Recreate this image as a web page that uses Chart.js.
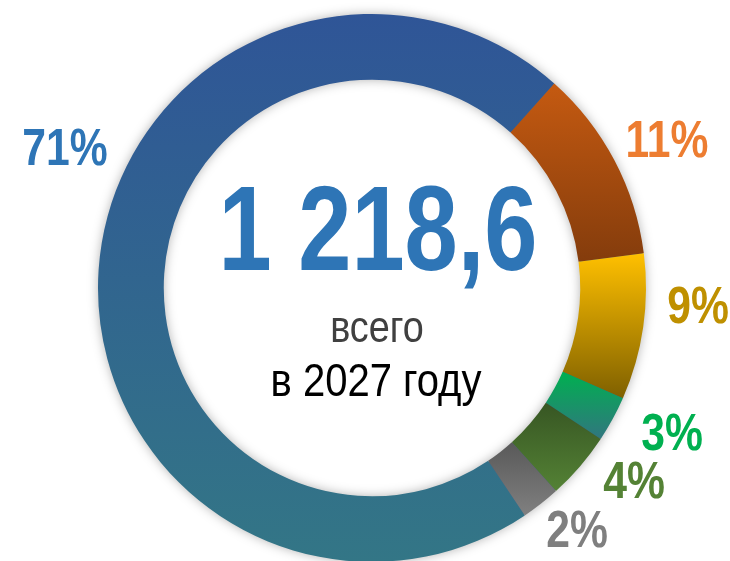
<!DOCTYPE html>
<html><head><meta charset="utf-8">
<script src="https://cdn.jsdelivr.net/npm/chart.js@4/dist/chart.umd.min.js"></script>
<style>
html,body{margin:0;padding:0;background:#fff;overflow:hidden;width:730px;height:561px;}
#wrap{position:absolute;left:0;top:0;width:730px;height:576px;}
.txt{position:absolute;white-space:nowrap;text-align:center;line-height:1;font-family:"Liberation Sans",Arial,sans-serif;transform-origin:50% 50%;}
</style></head><body>
<div id="wrap"><canvas id="c"></canvas></div>
<div id="center"></div>
<div id="labels"></div>
<script>
// ---- data ----
const categories = ['Категория 1', 'Категория 2', 'Категория 3', 'Категория 4', 'Категория 5', 'Категория 6'];
const shares = [71.0, 11.4, 8.6, 2.7, 4.0, 2.3];
const totalText = '1 218,6';
const subtitleLines = ['всего', 'в 2027 году'];

// ---- styles ----
const gradTop    = ['#2F5597', '#C55A11', '#FFC000', '#00B050', '#375623', '#595959'];
const gradBottom = ['#337686', '#843C0C', '#7F6000', '#31767F', '#548235', '#808080'];
const labelColors = ['#2E75B6', '#ED7D31', '#BF9000', '#00B050', '#548235', '#7F7F7F'];
const labelAngleDeg = [294.8, 63.1, 92.8, 115.6, 126.2, 139.5];
const labelDistFactor = [1.234, 1.209, 1.191, 1.215, 1.185, 1.152];
const startRotation = 146.1;
const cutoutPct = 76;

function segGradient(ctx) {
  const chart = ctx.chart, i = ctx.dataIndex, area = chart.chartArea;
  if (!area || i === undefined) return gradTop[i || 0];
  const cx = (area.left + area.right) / 2, cy = (area.top + area.bottom) / 2;
  const R = Math.min(area.width, area.height) / 2, r = R * cutoutPct / 100;
  const total = shares.reduce((a, b) => a + b, 0);
  let a0 = startRotation;
  for (let k = 0; k < i; k++) a0 += shares[k] / total * 360;
  const a1 = a0 + shares[i] / total * 360;
  let ymin = Infinity, ymax = -Infinity;
  for (let s = 0; s <= 60; s++) {
    const a = (a0 + (a1 - a0) * s / 60) * Math.PI / 180;
    for (const rad of [R, r]) {
      const y = cy - rad * Math.cos(a);
      ymin = Math.min(ymin, y); ymax = Math.max(ymax, y);
    }
  }
  const g = chart.ctx.createLinearGradient(0, ymin, 0, ymax);
  g.addColorStop(0, gradTop[i]);
  g.addColorStop(1, gradBottom[i]);
  return g;
}

const shadowRing = {
  id: 'shadowRing',
  beforeDatasetsDraw(chart) {
    const arc = chart.getDatasetMeta(0).data[0];
    if (!arc) return;
    const {x, y, outerRadius, innerRadius} = arc.getProps(['x', 'y', 'outerRadius', 'innerRadius'], true);
    const c = chart.ctx;
    c.save();
    c.beginPath();
    c.arc(x, y, outerRadius - 1, 0, Math.PI * 2);
    c.arc(x, y, innerRadius + 1, 0, Math.PI * 2, true);
    c.closePath();
    c.shadowColor = 'rgba(0,0,0,0.35)';
    c.shadowBlur = 12;
    c.fillStyle = '#3a5f8e';
    c.fill();
    c.restore();
  }
};

const htmlLabels = {
  id: 'htmlLabels',
  afterDraw(chart) {
    const arc = chart.getDatasetMeta(0).data[0];
    if (!arc) return;
    const {x, y, outerRadius} = arc.getProps(['x', 'y', 'outerRadius'], true);
    const host = document.getElementById('labels');
    host.innerHTML = '';
    const fs = 52;
    shares.forEach((v, i) => {
      const a = labelAngleDeg[i] * Math.PI / 180;
      const d = outerRadius * labelDistFactor[i];
      const lx = x + d * Math.sin(a), ly = y - d * Math.cos(a);
      const el = document.createElement('div');
      el.className = 'txt';
      el.textContent = Math.round(v) + '%';
      el.style.cssText += `width:200px;left:${lx - 100}px;top:${ly - 0.4885 * fs}px;font-size:${fs}px;font-weight:bold;color:${labelColors[i]};transform:scaleX(0.82);`;
      host.appendChild(el);
    });
    const cHost = document.getElementById('center');
    cHost.innerHTML = '';
    const lines = [
      {t: totalText, fs: 121, bold: true, color: '#2E75B6', dx: 6, base: -18, sx: 0.79},
      {t: subtitleLines[0], fs: 45, bold: false, color: '#404040', dx: 5, base: 53.7, sx: 0.84},
      {t: subtitleLines[1], fs: 46, bold: false, color: '#000000', dx: 3.5, base: 108, sx: 0.87}
    ];
    lines.forEach(L => {
      const el = document.createElement('div');
      el.className = 'txt';
      el.textContent = L.t;
      el.style.cssText += `width:600px;left:${x + L.dx - 300}px;top:${y + L.base - 0.8465 * L.fs}px;font-size:${L.fs}px;font-weight:${L.bold ? 'bold' : 'normal'};color:${L.color};transform:scaleX(${L.sx});`;
      cHost.appendChild(el);
    });
  }
};

new Chart(document.getElementById('c'), {
  type: 'doughnut',
  data: {
    labels: categories,
    datasets: [{
      data: shares,
      backgroundColor: segGradient,
      borderWidth: 0,
      hoverOffset: 0,
      hoverBorderWidth: 0
    }]
  },
  options: {
    responsive: true,
    maintainAspectRatio: false,
    animation: false,
    events: [],
    rotation: startRotation,
    cutout: cutoutPct + '%',
    layout: {padding: {left: 98, right: 84, top: 14, bottom: 14}},
    plugins: {legend: {display: false}, tooltip: {enabled: false}}
  },
  plugins: [shadowRing, htmlLabels]
});
</script>
</body></html>
